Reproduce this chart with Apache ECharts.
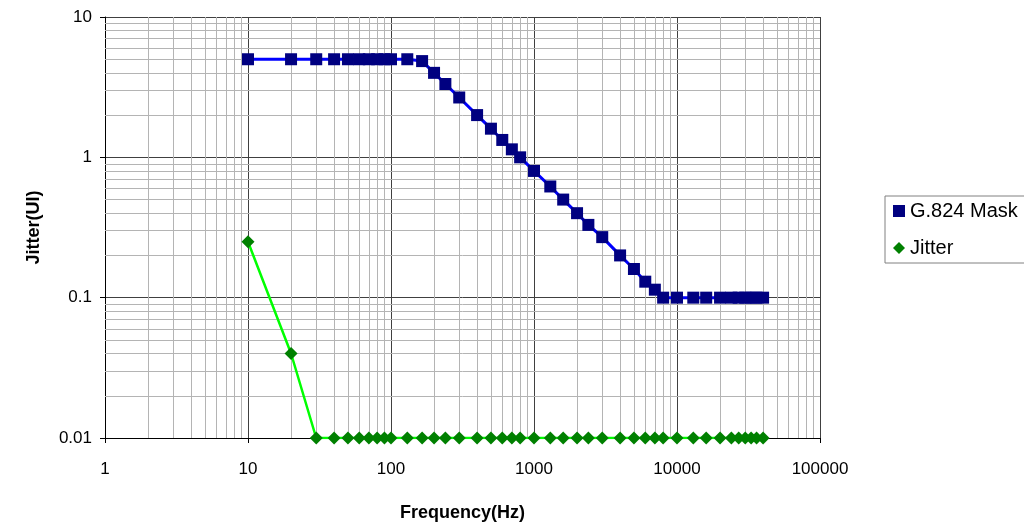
<!DOCTYPE html>
<html>
<head>
<meta charset="utf-8">
<script src="https://cdn.jsdelivr.net/npm/echarts@6/dist/echarts.min.js"></script>
<style>
html, body { margin: 0; padding: 0; background: #fff; }
#chart { width: 1024px; height: 531px; }
</style>
</head>
<body>
<div id="chart"></div>
<script>
// frequencies (Hz)
var freq = [10, 20, 30, 40, 50, 60, 70, 80, 90, 100, 130, 165, 200, 240, 300, 400, 500, 600, 700, 800,
    1000, 1300, 1600, 2000, 2400, 3000, 4000, 5000, 6000, 7000, 8000,
    10000, 13000, 16000, 20000, 24000, 27000, 30000, 33000, 36000, 40000];
var maskUI = [5, 5, 5, 5, 5, 5, 5, 5, 5, 5, 5, 4.85, 4, 3.33, 2.67, 2, 1.6, 1.33, 1.14, 1,
    0.8, 0.62, 0.5, 0.4, 0.33, 0.27, 0.2, 0.16, 0.13, 0.114, 0.1,
    0.1, 0.1, 0.1, 0.1, 0.1, 0.1, 0.1, 0.1, 0.1, 0.1];
var jitterUI = [0.25, 0.04, 0.01, 0.01, 0.01, 0.01, 0.01, 0.01, 0.01, 0.01, 0.01, 0.01, 0.01, 0.01, 0.01, 0.01, 0.01, 0.01, 0.01, 0.01,
    0.01, 0.01, 0.01, 0.01, 0.01, 0.01, 0.01, 0.01, 0.01, 0.01, 0.01,
    0.01, 0.01, 0.01, 0.01, 0.01, 0.01, 0.01, 0.01, 0.01, 0.01];
var xTicks = [1, 10, 100, 1000, 10000, 100000];
var yTicks = [0.01, 0.1, 1, 10];

var font = 'Arial, "Liberation Sans", sans-serif';

function pairs(xs, ys) {
    var out = [];
    for (var i = 0; i < xs.length; i++) out.push([xs[i], ys[i]]);
    return out;
}
// minor grid lines at 2..9 of each decade
function minorLines(ticks, key) {
    var out = [];
    for (var i = 0; i < ticks.length - 1; i++) {
        for (var k = 2; k <= 9; k++) {
            var o = {};
            o[key] = Number((ticks[i] * k).toPrecision(6));
            out.push(o);
        }
    }
    return out;
}
function fmt(v) { return String(Number(v.toPrecision(6))); }

var chart = echarts.init(document.getElementById('chart'));
chart.setOption({
    backgroundColor: '#fff',
    animation: false,
    grid: { left: 105, right: 204, top: 17, bottom: 93 },
    legend: {
        orient: 'vertical',
        left: 885,
        top: 196,
        padding: [5, 40, 5, 8],
        itemGap: 17,
        itemWidth: 12,
        itemHeight: 12,
        borderColor: '#808080',
        borderWidth: 1,
        textStyle: { fontFamily: font, fontSize: 20, color: '#000' },
        data: [
            { name: 'G.824 Mask', icon: 'rect' },
            { name: 'Jitter', icon: 'diamond' }
        ]
    },
    xAxis: {
        type: 'log',
        logBase: 10,
        min: 1,
        max: 100000,
        name: 'Frequency(Hz)',
        nameLocation: 'middle',
        nameGap: 66,
        nameTextStyle: { fontFamily: font, fontSize: 18, fontWeight: 'bold', color: '#000' },
        axisLine: { lineStyle: { color: '#000' } },
        axisTick: { show: true, length: 5, lineStyle: { color: '#000' } },
        axisLabel: { fontFamily: font, fontSize: 17, color: '#000', margin: 23, formatter: fmt },
        splitLine: { show: true, lineStyle: { color: '#404040', width: 1 } }
    },
    yAxis: {
        type: 'log',
        logBase: 10,
        min: 0.01,
        max: 10,
        name: 'Jitter(UI)',
        nameLocation: 'middle',
        nameGap: 62,
        nameTextStyle: { fontFamily: font, fontSize: 18, fontWeight: 'bold', color: '#000' },
        axisLine: { lineStyle: { color: '#000' } },
        axisTick: { show: true, length: 5, lineStyle: { color: '#000' } },
        axisLabel: { fontFamily: font, fontSize: 17, color: '#000', margin: 13, formatter: fmt },
        splitLine: { show: true, lineStyle: { color: '#404040', width: 1 } }
    },
    series: [
        {
            // carries the minor grid
            type: 'line',
            data: [],
            z: 1,
            silent: true,
            markLine: {
                silent: true,
                symbol: ['none', 'none'],
                label: { show: false },
                lineStyle: { color: '#b4b4b4', width: 1, type: 'solid' },
                data: minorLines(xTicks, 'xAxis').concat(minorLines(yTicks, 'yAxis'))
            }
        },
        {
            name: 'G.824 Mask',
            type: 'line',
            z: 10,
            data: pairs(freq, maskUI),
            symbol: 'rect',
            symbolSize: 12,
            itemStyle: { color: '#000080' },
            lineStyle: { color: '#0000ff', width: 3 }
        },
        {
            name: 'Jitter',
            type: 'line',
            z: 10,
            data: pairs(freq, jitterUI),
            symbol: 'diamond',
            symbolSize: 13,
            itemStyle: { color: '#008000' },
            lineStyle: { color: '#00ff00', width: 2.5 }
        }
    ]
});
</script>
</body>
</html>
